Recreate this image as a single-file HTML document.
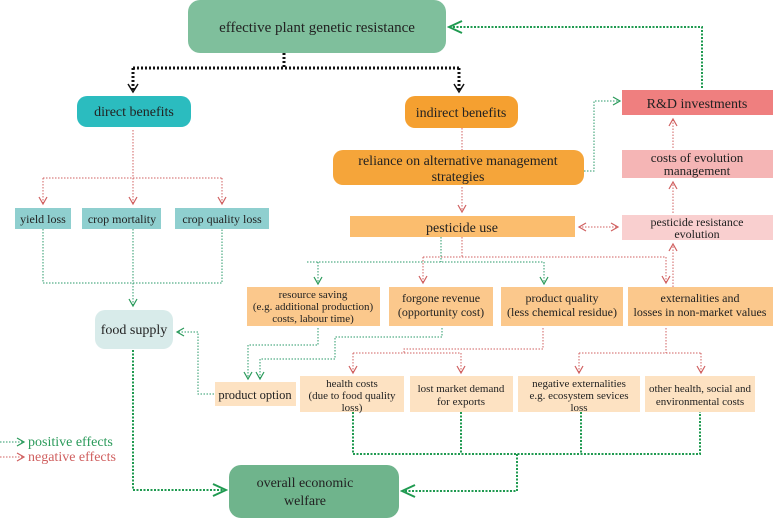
<!DOCTYPE html>
<html><head><meta charset="utf-8"><style>
body{margin:0;background:#fff;}
svg{display:block;font-family:"Liberation Serif","Times New Roman",serif;}
</style></head><body>
<svg width="773" height="518" viewBox="0 0 773 518" xmlns="http://www.w3.org/2000/svg">
<defs>
<marker id="g" markerWidth="10" markerHeight="10" refX="8" refY="5" orient="auto-start-reverse" markerUnits="userSpaceOnUse"><path d="M1,1 L8,5 L1,9" fill="none" stroke="#2a9a5a" stroke-width="1.2"/></marker>
<marker id="r" markerWidth="10" markerHeight="10" refX="8" refY="5" orient="auto-start-reverse" markerUnits="userSpaceOnUse"><path d="M1,1 L8,5 L1,9" fill="none" stroke="#d06060" stroke-width="1.2"/></marker>
<marker id="gb" markerWidth="16" markerHeight="16" refX="14" refY="8" orient="auto" markerUnits="userSpaceOnUse"><path d="M1,2 L14,8 L1,14" fill="none" stroke="#1f9a50" stroke-width="2"/></marker>
<marker id="k" markerWidth="12" markerHeight="12" refX="10" refY="6" orient="auto" markerUnits="userSpaceOnUse"><path d="M2,1 L10,6 L2,11" fill="none" stroke="#111" stroke-width="1.5"/></marker>
</defs>

<rect x="188" y="0" width="258" height="53" rx="12" fill="#7fbf9c"/>
<rect x="77" y="96" width="114" height="31" rx="10" fill="#2bbcbf"/>
<rect x="405" y="96" width="113" height="32" rx="10" fill="#f5a030"/>
<rect x="333" y="150" width="251" height="35" rx="10" fill="#f5a53a"/>
<rect x="350" y="216" width="225" height="21" fill="#fbbd6e"/>
<rect x="622" y="90" width="151" height="25" fill="#ef7f7f"/>
<rect x="622" y="150" width="151" height="28" fill="#f5b5b5"/>
<rect x="622" y="215" width="151" height="25" fill="#f9cfcf"/>
<rect x="15" y="208" width="56" height="21" fill="#8fcfcf"/>
<rect x="82" y="208" width="79" height="21" fill="#8fcfcf"/>
<rect x="175" y="208" width="94" height="21" fill="#8fcfcf"/>
<rect x="95" y="310" width="78" height="39" rx="10" fill="#d8ebea"/>
<rect x="247" y="287" width="133" height="39" fill="#fbc88c"/>
<rect x="389" y="287" width="104" height="39" fill="#fbc88c"/>
<rect x="501" y="287" width="122" height="39" fill="#fbc88c"/>
<rect x="628" y="287" width="145" height="39" fill="#fbc88c"/>
<rect x="215" y="382" width="81" height="24" fill="#fde2c2"/>
<rect x="300" y="376" width="104" height="36" fill="#fde2c2"/>
<rect x="410" y="376" width="103" height="36" fill="#fde2c2"/>
<rect x="518" y="376" width="122" height="36" fill="#fde2c2"/>
<rect x="645" y="376" width="110" height="36" fill="#fde2c2"/>
<rect x="229" y="465" width="170" height="53" rx="12" fill="#6fb48c"/>

<g fill="#222" text-anchor="middle">
<text x="317" y="32" font-size="15">effective plant genetic resistance</text>
<text x="134" y="116" font-size="14">direct benefits</text>
<text x="461" y="117" font-size="14">indirect benefits</text>
<text x="458" y="165" font-size="14">reliance on alternative management</text>
<text x="458" y="181" font-size="14">strategies</text>
<text x="462" y="232" font-size="14">pesticide use</text>
<text x="697" y="108" font-size="14">R&amp;D investments</text>
<text x="697" y="162" font-size="13">costs of evolution</text>
<text x="697" y="175" font-size="13">management</text>
<text x="697" y="226" font-size="12">pesticide resistance</text>
<text x="697" y="238" font-size="12">evolution</text>
<text x="43" y="223" font-size="12">yield loss</text>
<text x="122" y="223" font-size="12">crop mortality</text>
<text x="222" y="223" font-size="12">crop quality loss</text>
<text x="134" y="334" font-size="14">food supply</text>
<text x="313" y="298" font-size="11">resource saving</text>
<text x="313" y="310" font-size="11">(e.g. additional production)</text>
<text x="313" y="322" font-size="11">costs, labour time)</text>
<text x="441" y="302" font-size="12">forgone revenue</text>
<text x="441" y="316" font-size="12">(opportunity cost)</text>
<text x="562" y="302" font-size="12">product quality</text>
<text x="562" y="316" font-size="12">(less chemical residue)</text>
<text x="700" y="302" font-size="12">externalities and</text>
<text x="700" y="316" font-size="12">losses in non-market values</text>
<text x="255" y="399" font-size="12.5">product option</text>
<text x="352" y="387" font-size="11">health costs</text>
<text x="352" y="399" font-size="11">(due to food quality</text>
<text x="352" y="411" font-size="11">loss)</text>
<text x="461" y="392" font-size="11">lost market demand</text>
<text x="461" y="405" font-size="11">for exports</text>
<text x="579" y="387" font-size="11">negative externalities</text>
<text x="579" y="399" font-size="11">e.g. ecosystem sevices</text>
<text x="579" y="411" font-size="11">loss</text>
<text x="700" y="392" font-size="11">other health, social and</text>
<text x="700" y="405" font-size="11">environmental costs</text>
<text x="305" y="487" font-size="14">overall economic</text>
<text x="305" y="505" font-size="14">welfare</text>
</g>
<text x="28" y="446" font-size="14" fill="#2a9a5a">positive effects</text>
<text x="28" y="461" font-size="14" fill="#d06060">negative effects</text>

<g fill="none" stroke="#111" stroke-width="3" stroke-dasharray="2,2">
<path d="M284,53 V68 M133,68 H459"/>
<path d="M133,68 V92" marker-end="url(#k)"/>
<path d="M459,68 V92" marker-end="url(#k)"/>
</g>

<g fill="none" stroke="#d06060" stroke-width="1" stroke-dasharray="1.5,1.5">
<path d="M133,130 V178 M43,178 H222"/>
<path d="M43,178 V204" marker-end="url(#r)"/>
<path d="M133,178 V204" marker-end="url(#r)"/>
<path d="M222,178 V204" marker-end="url(#r)"/>
<path d="M462,128 V150"/>
<path d="M462,187 V212" marker-end="url(#r)"/>
<path d="M579,227 H618" marker-start="url(#r)" marker-end="url(#r)"/>
<path d="M673,213 V182" marker-end="url(#r)"/>
<path d="M673,148 V119" marker-end="url(#r)"/>
<path d="M673,287 V244" marker-end="url(#r)"/>
<path d="M462,237 V257 M423,257 H666"/>
<path d="M423,257 V283" marker-end="url(#r)"/>
<path d="M666,257 V283" marker-end="url(#r)"/>
<path d="M543,328 V349 H404 V353 M353,353 H461"/>
<path d="M353,353 V373" marker-end="url(#r)"/>
<path d="M461,353 V373" marker-end="url(#r)"/>
<path d="M666,328 V353 M579,353 H701"/>
<path d="M579,353 V373" marker-end="url(#r)"/>
<path d="M701,353 V373" marker-end="url(#r)"/>
<path d="M0,457 H24" marker-end="url(#r)"/>
</g>

<g fill="none" stroke="#2a9a6a" stroke-width="1" stroke-dasharray="1.5,1.5">
<path d="M43,229 V283 H222 V229 M133,229 V283"/>
<path d="M133,283 V306" marker-end="url(#g)"/>
<path d="M214,394 H198 V332 H177" marker-end="url(#g)"/>
<path d="M584,171 H594 V101 H620" marker-end="url(#g)"/>
<path d="M441,237 V262 M307,262 H544"/>
<path d="M318,262 V284" marker-end="url(#g)"/>
<path d="M544,262 V284" marker-end="url(#g)"/>
<path d="M318,328 V345 H248 V379" marker-end="url(#g)"/>
<path d="M442,328 V337 H335 V359 H260 V379" marker-end="url(#g)"/>
<path d="M0,442 H24" marker-end="url(#g)"/>
</g>
<g fill="none" stroke="#1f9a50" stroke-width="2" stroke-dasharray="2,1.5">
<path d="M702,88 V27 H449" marker-end="url(#gb)"/>
<path d="M133,350 V490 H226" marker-end="url(#gb)"/>
<path d="M353,412 V454 H700 V412 M461,412 V454 M581,412 V454"/>
<path d="M517,454 V491 H402" marker-end="url(#gb)"/>
</g>
</svg>
</body></html>
